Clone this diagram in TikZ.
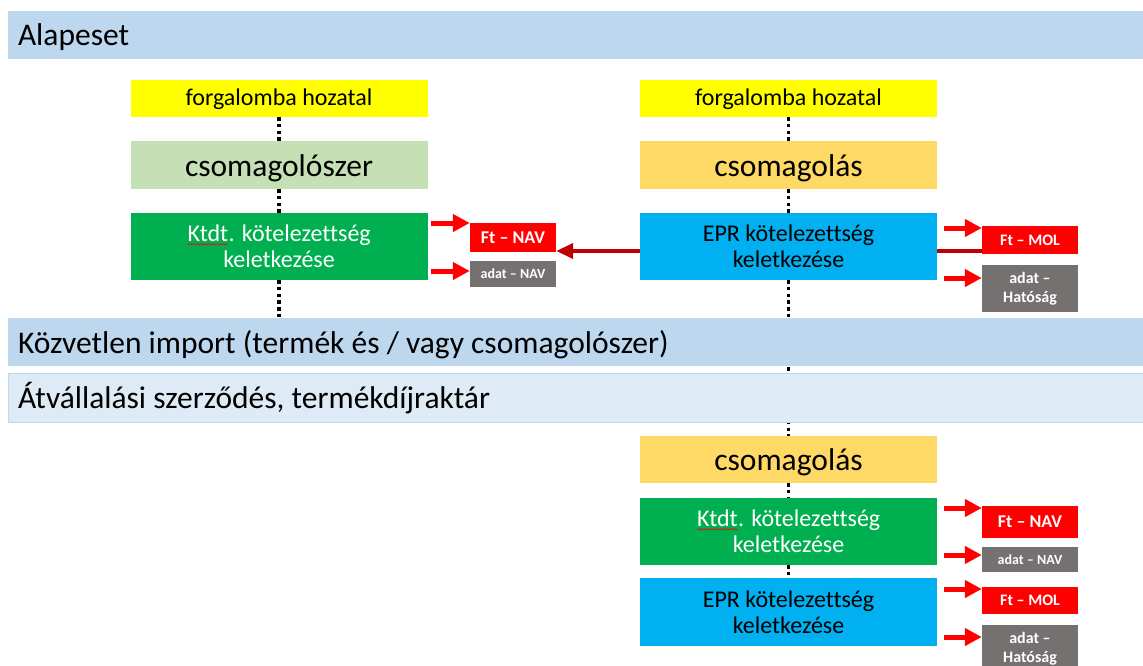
\documentclass[tikz,border=0pt]{standalone}
\usepackage{fontspec}
\setmainfont{Carlito}[Ligatures=CommonOff]
\usetikzlibrary{arrows.meta,positioning,calc,backgrounds,decorations.pathmorphing}

\definecolor{bandblue}{HTML}{BDD7EE}
\definecolor{bandlight}{HTML}{DEEBF7}
\definecolor{boxyellow}{HTML}{FFFF00}
\definecolor{boxsage}{HTML}{C5E0B4}
\definecolor{boxgreen}{HTML}{00B050}
\definecolor{boxgold}{HTML}{FFD966}
\definecolor{boxcyan}{HTML}{00B0F0}
\definecolor{tagred}{HTML}{FF0000}
\definecolor{taggray}{HTML}{767171}
\definecolor{darkred}{HTML}{C00000}

\newcommand{\spellmark}[1]{\tikz[baseline=(w.base)]{\node[inner sep=0pt,minimum width=0pt,minimum height=0pt,fill=none,draw=none] (w) {#1};
  \draw[tagred,line width=0.5pt,decorate,decoration={snake,amplitude=0.7pt,segment length=2.5pt}] ([yshift=-2.5pt]w.base west) -- ([yshift=-2.5pt]w.base east);}}

\tikzset{
  band/.style={fill=bandblue, minimum width=1135pt, minimum height=48pt, inner xsep=10pt, inner ysep=0pt,
    text width=1115pt, align=flush left, text height=22pt, text depth=0pt, font=\fontsize{31.5}{36}\selectfont},
  box/.style={minimum width=297pt, inner sep=0pt, align=flush center, font=\fontsize{24}{26}\selectfont},
  bigbox/.style={box, minimum height=48pt, text height=22pt, text depth=0pt, font=\fontsize{31.5}{36}\selectfont},
  tag/.style={inner sep=0pt, align=flush center, text=white},
  redarr/.style={tagred, line width=5pt, -{Triangle[length=17pt,width=17pt]}},
  darr/.style={darkred, line width=4pt, -{Triangle[length=17pt,width=15pt]}},
  dots/.style={line width=3.5pt, dash pattern=on 3.5pt off 3.2pt}
}

\begin{document}
\begin{tikzpicture}[x=1pt,y=-1pt]
  \useasboundingbox (0,0) rectangle (1143,666);
  \clip (0,0) rectangle (1143,666);

  % bands
  \node[band] (alap) at (575.5,35) {Alapeset};
  \node[band] (kozv) at (575.5,342) {Közvetlen import (termék és / vagy csomagolószer)};
  \node[band, fill=bandlight, draw=bandblue, line width=1pt, minimum height=49pt] (atv) at (575.5,397.5) {Átvállalási szerződés, termékdíjraktár};

  % left column
  \node[box, fill=boxyellow, minimum height=37pt, text height=15pt, text depth=0pt] (forgL) at (279,98.5) {forgalomba hozatal};
  \node[bigbox, fill=boxsage] (csomL) at (279,165) {csomagolószer};
  \node[box, fill=boxgreen, text=white, minimum height=67pt] (ktdtL) at (279,246.5) {\spellmark{Ktdt}. kötelezettség\\keletkezése};
  \node[tag, fill=tagred, minimum width=86pt, minimum height=29pt, font=\bfseries\fontsize{18}{20}\selectfont] (ftnavL) at (513,237.5) {Ft – NAV};
  \node[tag, fill=taggray, minimum width=86pt, minimum height=26pt, font=\bfseries\fontsize{14}{16}\selectfont] (adnavL) at (513,274) {adat – NAV};

  % right column
  \node[box, fill=boxyellow, minimum height=37pt, text height=15pt, text depth=0pt] (forgR) at (788.5,98.5) {forgalomba hozatal};
  \node[bigbox, fill=boxgold] (csomR) at (788.5,165) {csomagolás};
  \node[box, fill=boxcyan, minimum height=67pt] (eprR) at (788.5,246.5) {EPR kötelezettség\\keletkezése};
  \node[tag, fill=tagred, minimum width=96pt, minimum height=28pt, font=\bfseries\fontsize{16}{19}\selectfont] (ftmolR) at (1030,240) {Ft – MOL};
  \node[tag, fill=taggray, minimum width=96pt, minimum height=47pt, font=\bfseries\fontsize{16}{19}\selectfont] (adhatR) at (1030,288.5) {adat –\\Hatóság};

  % bottom column
  \node[bigbox, fill=boxgold, minimum height=47pt] (csomB) at (788.5,459.5) {csomagolás};
  \node[box, fill=boxgreen, text=white, minimum height=67pt] (ktdtB) at (788.5,531.5) {\spellmark{Ktdt}. kötelezettség\\keletkezése};
  \node[box, fill=boxcyan, minimum height=68pt] (eprB) at (788.5,612) {EPR kötelezettség\\keletkezése};
  \node[tag, fill=tagred, minimum width=96pt, minimum height=32pt, font=\bfseries\fontsize{18}{20}\selectfont] (ftnavB) at (1030,522) {Ft – NAV};
  \node[tag, fill=taggray, minimum width=96pt, minimum height=25pt, font=\bfseries\fontsize{14}{16}\selectfont] (adnavB) at (1030,559.5) {adat – NAV};
  \node[tag, fill=tagred, minimum width=96pt, minimum height=27pt, font=\bfseries\fontsize{16}{19}\selectfont] (ftmolB) at (1030,600.5) {Ft – MOL};
  \node[tag, fill=taggray, minimum width=96pt, minimum height=47pt, font=\bfseries\fontsize{16}{19}\selectfont] (adhatB) at (1030,648.5) {adat –\\Hatóság};

  % dotted flow
  \draw[dots] (forgL) -- (csomL);
  \draw[dots] (csomL) -- (ktdtL);
  \draw[dots] (ktdtL) -- (ktdtL.south |- kozv.north);
  \draw[dots] (forgR) -- (csomR);
  \draw[dots] (csomR) -- (eprR);
  \draw[dots] (csomB) -- (ktdtB);
  \draw[dots] (ktdtB) -- (eprB);
  \begin{scope}[on background layer]
    \draw[dots] (eprR.south) -- (csomB.north);
    \draw[darr] (ftmolR.west |- 0,251) -- (ftnavL.east |- 0,251);
  \end{scope}

  % payment / data arrows
  \draw[redarr] ($(ktdtL.east |- 0,223)+(3,0)$) -- (ftnavL.west |- 0,223);
  \draw[redarr] ($(ktdtL.east |- 0,271)+(3,0)$) -- (adnavL.west |- 0,271);
  \draw[redarr] ($(eprR.east |- 0,228)+(7,0)$) -- (ftmolR.west |- 0,228);
  \draw[redarr] ($(eprR.east |- 0,278)+(7,0)$) -- (adhatR.west |- 0,278);
  \draw[redarr] ($(ktdtB.east |- 0,508)+(7,0)$) -- (ftnavB.west |- 0,508);
  \draw[redarr] ($(ktdtB.east |- 0,555)+(7,0)$) -- (adnavB.west |- 0,555);
  \draw[redarr] ($(eprB.east |- 0,589)+(7,0)$) -- (ftmolB.west |- 0,589);
  \draw[redarr] ($(eprB.east |- 0,637)+(7,0)$) -- (adhatB.west |- 0,637);
\end{tikzpicture}
\end{document}
